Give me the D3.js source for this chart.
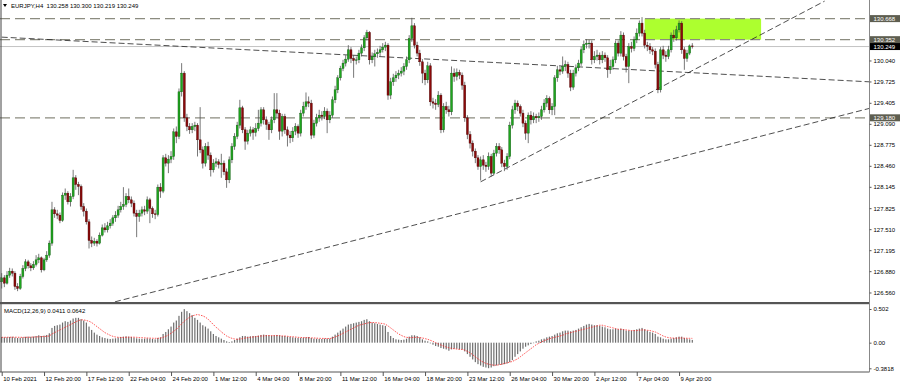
<!DOCTYPE html>
<html><head><meta charset="utf-8">
<script src="https://cdn.jsdelivr.net/npm/d3@7"></script>
<style>html,body{margin:0;padding:0;background:#fff;} svg{display:block;} text{font-family:"Liberation Sans",Arial,sans-serif;}</style>
</head><body><svg id="c" width="900" height="387"></svg>
<script>
const symbolTitle = "EURJPY,H4  130.258 130.300 130.219 130.249";
const macdTitle = "MACD(12,26,9) 0.0411 0.0642";
const firstOpen = 126.72;
const closes = [
126.78,126.70,126.82,126.88,126.85,126.65,126.62,126.80,126.92,127.02,
126.96,126.93,126.98,127.05,127.08,126.90,127.05,127.12,127.30,127.80,
127.74,127.72,127.64,128.02,128.05,127.92,128.00,128.28,128.18,128.15,
127.85,127.78,127.62,127.34,127.30,127.33,127.30,127.42,127.53,127.50,
127.56,127.60,127.68,127.72,127.80,127.85,127.88,128.00,127.95,127.90,
127.75,127.70,127.75,127.80,127.78,127.95,127.82,127.74,127.73,128.14,
128.08,128.58,128.50,128.56,128.60,128.97,128.90,129.57,129.85,129.18,
129.05,129.00,129.05,129.07,128.85,128.70,128.50,128.75,128.62,128.40,
128.50,128.52,128.48,128.50,128.37,128.25,128.55,128.75,128.90,129.07,
129.33,129.00,128.83,128.95,129.00,128.96,129.02,129.10,129.30,129.15,
129.08,129.00,129.15,129.30,129.25,128.98,129.20,129.00,128.92,128.88,
128.98,129.05,128.95,129.25,129.35,129.42,129.40,128.92,129.10,129.18,
129.22,129.20,129.28,129.15,129.22,129.45,129.60,129.78,129.92,130.00,
130.06,130.20,130.07,130.04,130.05,130.15,130.23,130.38,130.46,130.05,
130.10,130.14,130.16,130.20,130.24,130.27,129.52,129.72,129.78,129.82,
129.85,129.88,129.95,130.05,130.37,130.56,130.27,130.15,130.02,129.85,
129.75,129.96,129.42,129.40,129.38,129.52,129.00,129.35,129.30,129.27,
129.85,129.80,129.86,129.82,129.67,129.18,128.93,128.80,128.68,128.58,
128.45,128.55,128.47,128.45,128.60,128.35,128.65,128.75,128.70,128.50,
128.45,128.60,129.07,129.30,129.40,129.35,129.25,129.10,128.95,129.22,
129.15,129.20,129.18,129.20,129.30,129.40,129.47,129.30,129.35,129.78,
129.90,129.88,129.95,129.98,129.85,129.64,129.85,129.93,130.00,130.20,
130.28,130.30,130.30,130.05,130.10,130.12,130.05,130.12,130.08,129.90,
129.95,130.05,130.30,130.15,130.42,130.10,129.95,130.25,130.22,130.35,
130.45,130.60,130.45,130.27,130.25,130.20,130.18,129.98,129.60,130.20,
130.12,130.10,130.20,130.42,130.38,130.50,130.60,130.20,130.07,130.15,
130.258,130.249];
const highs = [
126.85,126.82,126.88,126.93,126.92,126.88,126.70,126.84,126.97,127.06,
127.05,127.00,127.03,127.12,127.14,127.10,127.08,127.18,127.34,127.92,
127.84,127.80,127.76,128.06,128.12,128.08,128.05,128.40,128.32,128.22,
128.18,127.90,127.82,127.66,127.40,127.38,127.36,127.46,127.58,127.60,
127.62,127.66,127.72,127.78,127.86,127.92,128.14,128.05,128.12,128.00,
127.94,127.80,127.80,127.85,127.86,128.00,127.98,127.85,127.80,128.18,
128.20,128.62,128.64,128.62,128.68,129.02,129.05,129.62,130.00,129.88,
129.24,129.10,129.10,129.12,129.10,129.34,128.75,128.80,128.82,128.66,
128.56,128.58,128.56,128.64,128.54,128.42,128.60,128.80,128.95,129.12,
129.45,129.36,129.04,129.00,129.05,129.04,129.10,129.30,129.34,129.34,
129.20,129.12,129.20,129.55,129.55,129.30,129.24,129.24,129.05,128.98,
129.04,129.10,129.08,129.30,129.42,129.56,129.50,129.45,129.15,129.24,
129.30,129.28,129.34,129.32,129.28,129.50,129.66,129.82,129.96,130.05,
130.12,130.27,130.24,130.12,130.10,130.20,130.28,130.42,130.50,130.48,
130.16,130.20,130.22,130.26,130.30,130.32,130.30,129.78,129.84,129.88,
129.90,129.94,130.00,130.10,130.42,130.68,130.60,130.32,130.20,130.06,
129.90,130.02,130.00,129.48,129.46,129.58,129.55,129.40,129.42,129.36,
129.95,129.92,129.92,129.90,129.86,129.72,129.22,128.98,128.84,128.72,
128.62,128.60,128.62,128.52,128.66,128.64,128.70,128.80,128.80,128.74,
128.55,128.65,129.12,129.36,129.45,129.44,129.38,129.30,129.14,129.26,
129.28,129.26,129.24,129.26,129.36,129.46,129.52,129.50,129.40,129.82,
129.96,129.95,130.10,130.04,130.02,129.90,129.90,129.98,130.05,130.25,
130.34,130.36,130.35,130.34,130.18,130.20,130.16,130.18,130.16,130.12,
130.05,130.10,130.34,130.34,130.48,130.46,130.14,130.30,130.32,130.40,
130.52,130.64,130.69,130.50,130.32,130.30,130.24,130.22,130.02,130.24,
130.26,130.18,130.26,130.46,130.50,130.56,130.64,130.63,130.24,130.20,
130.28,130.30];
const lows = [
126.62,126.64,126.68,126.78,126.80,126.60,126.58,126.60,126.77,126.88,
126.92,126.88,126.90,126.95,127.00,126.86,126.88,127.02,127.08,127.26,
127.68,127.66,127.60,127.62,127.95,127.88,127.85,127.96,128.10,128.02,
127.80,127.70,127.58,127.22,127.24,127.26,127.25,127.28,127.40,127.46,
127.46,127.52,127.56,127.62,127.68,127.76,127.80,127.84,127.90,127.84,
127.70,127.39,127.62,127.70,127.72,127.74,127.60,127.68,127.66,127.70,
127.98,128.05,128.45,128.35,128.50,128.55,128.80,128.86,129.50,129.12,
128.98,128.94,128.95,128.98,128.60,128.65,128.42,128.45,128.55,128.30,
128.36,128.44,128.42,128.28,128.32,128.13,128.20,128.50,128.70,128.86,
129.02,128.95,128.70,128.78,128.90,128.85,128.90,128.98,129.05,129.08,
129.00,128.85,128.95,129.10,129.18,128.85,128.90,128.94,128.75,128.80,
128.82,128.92,128.88,128.90,129.20,129.30,129.34,128.86,128.88,129.05,
129.12,129.14,129.16,128.95,129.10,129.18,129.40,129.55,129.74,129.88,
129.95,130.02,130.00,129.78,129.98,130.00,130.10,130.18,130.34,129.98,
130.00,129.95,130.08,130.10,130.16,130.18,129.45,129.46,129.66,129.72,
129.76,129.80,129.82,129.90,130.00,130.32,130.22,130.10,129.96,129.70,
129.67,129.70,129.36,129.32,129.30,129.34,128.95,128.96,129.24,129.20,
129.22,129.72,129.74,129.76,129.60,129.12,128.86,128.72,128.60,128.50,
128.40,128.24,128.40,128.37,128.40,128.30,128.32,128.60,128.64,128.44,
128.38,128.40,128.56,129.02,129.24,129.28,129.20,129.04,128.85,128.80,
129.08,129.10,129.10,129.12,129.15,129.26,129.34,129.24,129.22,129.22,
129.72,129.82,129.84,129.88,129.78,129.58,129.60,129.80,129.88,129.96,
130.15,130.22,130.22,129.98,130.00,130.04,129.98,130.00,130.02,129.78,
129.84,129.90,130.00,130.10,130.10,130.04,129.86,129.70,130.16,130.18,
130.30,130.40,130.40,130.22,130.18,130.14,130.12,129.92,129.55,129.56,
130.06,130.02,130.06,130.16,130.32,130.34,130.46,130.14,129.90,130.02,
130.12,130.219];
const macdHist = [
0.085,0.08,0.082,0.085,0.088,0.078,0.07,0.072,0.08,0.088,0.09,0.088,
0.092,0.1,0.11,0.1,0.105,0.115,
0.14,0.22,0.25,0.26,
0.27,0.3,0.32,0.31,0.33,
0.36,0.37,0.37,
0.35,0.33,0.3,
0.24,0.19,
0.15,0.12,0.1,0.08,
0.07,0.06,0.055,0.06,
0.065,0.075,0.085,0.09,0.095,0.09,0.085,0.075,0.065,0.06,
0.058,0.06,0.065,0.06,0.055,0.05,0.07,0.08,
0.13,0.16,0.2,0.24,
0.3,0.33,0.4,0.46,
0.5,0.47,0.44,0.41,
0.37,0.34,0.3,0.26,0.24,
0.21,0.17,0.13,0.1,0.08,
0.06,0.04,0.02,0.01,0.02,
0.04,0.06,0.08,
0.1,0.1,0.09,0.095,0.1,0.1,0.105,0.115,0.12,0.115,0.11,0.105,0.11,0.115,0.11,0.1,0.1,0.09,0.085,0.08,0.075,0.07,
0.07,0.075,0.08,0.085,0.07,0.06,0.058,0.055,0.055,0.06,0.06,0.062,
0.09,0.12,0.15,0.18,0.21,0.24,
0.27,0.28,0.29,0.3,0.31,0.32,0.34,
0.35,0.32,0.3,0.29,0.28,0.27,0.26,0.25,
0.16,0.1,0.07,
0.05,0.045,0.04,0.045,0.06,
0.09,0.11,0.11,0.1,0.08,
0.05,0.03,0.02,-0.01,
-0.03,-0.05,-0.06,-0.08,-0.09,-0.1,
-0.12,-0.1,-0.09,-0.09,-0.1,-0.1,-0.13,
-0.17,-0.21,-0.25,-0.29,-0.32,
-0.34,-0.36,-0.37,-0.38,-0.37,
-0.35,-0.34,-0.33,-0.33,-0.32,-0.31,-0.29,-0.26,
-0.21,-0.17,-0.13,-0.09,
-0.06,-0.04,-0.02,0.0,
0.02,0.03,0.05,0.06,0.08,
0.09,0.1,0.12,0.14,0.15,
0.17,0.18,0.18,0.17,0.18,0.19,
0.21,0.23,0.25,0.27,0.28,0.27,0.26,0.26,0.25,
0.24,0.23,0.21,0.2,0.2,0.21,0.2,
0.21,0.2,0.18,0.18,0.18,0.19,0.2,0.21,0.22,
0.2,0.18,0.16,0.15,0.13,
0.09,0.08,0.06,0.05,0.05,
0.06,0.07,0.08,0.09,0.09,
0.07,0.06,0.05,0.0411];
const macdSignal = [
0.08,0.08,0.081,0.081,0.082,0.082,0.081,0.08,0.08,0.08,0.081,0.082,
0.084,0.086,0.088,0.09,0.092,0.095,
0.1,0.13,0.15,0.17,
0.19,0.21,0.23,0.25,0.27,0.29,0.31,0.33,0.34,
0.34,0.33,0.32,0.3,
0.27,0.24,0.21,0.18,0.15,0.13,
0.11,0.095,0.085,0.08,0.078,
0.078,0.08,0.082,0.083,0.082,0.08,0.077,0.074,0.072,0.07,0.068,0.066,0.065,0.066,0.068,
0.08,0.095,0.115,0.14,0.17,
0.2,0.24,0.28,0.32,0.35,
0.38,0.4,0.41,0.42,0.41,0.4,
0.38,0.35,0.31,0.27,0.23,0.2,
0.16,0.13,0.1,0.08,0.065,0.055,
0.05,0.055,0.06,0.07,0.075,
0.08,0.085,0.09,0.095,0.1,0.1,0.105,0.105,0.105,0.105,0.105,0.105,0.1,0.1,0.095,0.09,0.088,0.085,0.08,
0.078,0.076,0.075,0.074,0.072,0.07,0.068,0.065,0.064,0.063,0.062,0.062,
0.07,0.085,0.1,0.12,0.14,0.16,0.18,
0.2,0.22,0.24,0.26,0.27,0.28,0.29,0.3,
0.3,0.3,0.295,0.29,0.285,0.275,
0.25,0.22,0.19,0.16,0.13,0.11,0.09,
0.08,0.075,0.075,0.08,0.08,0.075,0.07,0.06,
0.05,0.035,0.02,0.0,-0.02,-0.035,
-0.05,-0.065,-0.075,-0.085,-0.09,-0.095,-0.1,-0.1,-0.11,
-0.13,-0.15,-0.18,-0.21,-0.24,-0.27,
-0.29,-0.31,-0.32,-0.33,-0.335,-0.335,-0.33,-0.32,-0.31,
-0.3,-0.29,-0.28,-0.26,-0.24,-0.21,-0.18,
-0.15,-0.12,-0.09,-0.06,-0.03,-0.01,
0.01,0.03,0.045,0.06,0.07,0.08,0.09,
0.1,0.11,0.13,0.14,0.15,0.16,0.17,
0.18,0.19,0.2,0.21,0.22,0.23,0.24,0.25,0.26,
0.26,0.25,0.24,0.23,0.22,0.21,0.2,
0.2,0.195,0.19,0.185,0.18,0.18,0.18,0.185,0.19,
0.19,0.185,0.18,0.17,0.16,0.14,0.12,0.1,
0.085,0.075,0.07,0.068,0.068,
0.07,0.07,0.068,0.066,0.065,0.0642];
const dateLabels = ["10 Feb 2021","12 Feb 20:00","17 Feb 12:00","22 Feb 04:00","24 Feb 20:00","1 Mar 12:00","4 Mar 04:00","8 Mar 20:00","11 Mar 12:00","16 Mar 04:00","18 Mar 20:00","23 Mar 12:00","26 Mar 04:00","30 Mar 20:00","2 Apr 12:00","7 Apr 04:00","9 Apr 20:00"];
const dateBars = [0,16,32,48,64,80,96,112,128,144,160,176,192,208,224,240,256];
const priceTicks = [130.040,129.725,129.405,129.090,128.775,128.460,128.145,127.825,127.510,127.195,126.880,126.560];
const levelPrices = [130.668,130.352,129.180];
const bidPrice = 130.249;
const macdTicks = [0.502,0.0,-0.3818];
const macdTickLabels = ["0.502","0.00","-0.3818"];
const trendStart = [[0,130.39],[181,128.22],[42.8,126.42]];
const trendEnd = [[327.8,129.72],[311,130.93],[327.8,129.32]];
const zoneBars = [243,287];
const zonePrices = [130.352,130.668];

const svg = d3.select("#c");
const W = 869.5;
const x = d3.scaleLinear().domain([0,261]).range([1.7,692.3]);
const y = d3.scaleLinear().domain([126.4175,130.947]).range([302,0]);
const ym = d3.scaleLinear().domain([-0.3818,0.502]).range([368.3,309]);
const bars = closes.map((c,i)=>({i,o:i?closes[i-1]:firstOpen,c,h:highs[i],l:lows[i]}));

const defs = svg.append("defs");
defs.append("clipPath").attr("id","cm").append("rect").attr("x",0).attr("y",0).attr("width",W).attr("height",302);
defs.append("clipPath").attr("id","cd").append("rect").attr("x",0).attr("y",304).attr("width",W).attr("height",68);

const main = svg.append("g").attr("clip-path","url(#cm)");
// zone
main.append("rect").attr("x",x(zoneBars[0])).attr("width",x(zoneBars[1])-x(zoneBars[0]))
  .attr("y",y(zonePrices[1])).attr("height",y(zonePrices[0])-y(zonePrices[1])).attr("fill","#adff2f");
// bid line
main.append("line").attr("x1",0).attr("x2",W).attr("y1",y(bidPrice)).attr("y2",y(bidPrice)).attr("stroke","#c4c4c4").attr("stroke-width",1);
// level lines
main.selectAll(".lvl").data(levelPrices).join("line").attr("x1",0).attr("x2",W)
  .attr("y1",d=>y(d)).attr("y2",d=>y(d)).attr("stroke","#8c8c80").attr("stroke-width",1.3).attr("stroke-dasharray","10,5");
// trend lines
main.selectAll(".tl").data(trendStart).join("line")
  .attr("x1",d=>x(d[0])).attr("y1",d=>y(d[1]))
  .attr("x2",(d,k)=>x(trendEnd[k][0])).attr("y2",(d,k)=>y(trendEnd[k][1]))
  .attr("stroke","#222").attr("stroke-width",0.8).attr("stroke-dasharray","6,3");
// candles
const cg = main.append("g");
cg.selectAll(".w").data(bars).join("line").attr("x1",d=>x(d.i)).attr("x2",d=>x(d.i))
  .attr("y1",d=>y(d.h)).attr("y2",d=>y(d.l)).attr("stroke","#555").attr("stroke-width",0.8);
cg.selectAll(".b").data(bars).join("rect").attr("x",d=>x(d.i)-1).attr("width",2)
  .attr("y",d=>y(Math.max(d.o,d.c))).attr("height",d=>Math.max(0.7,Math.abs(y(d.o)-y(d.c))))
  .attr("fill",d=>d.c>=d.o?"#1ea51e":"#8b0a0a").attr("stroke",d=>d.c>=d.o?"#145a14":"#4a0505").attr("stroke-width",0.4);

// title
svg.append("path").attr("d","M3,4 L7,4 L5,7 Z").attr("fill","#000");
svg.append("text").attr("x",11).attr("y",8).attr("font-size",6).attr("fill","#000").text(symbolTitle).style("white-space","pre");

// MACD
const mg = svg.append("g").attr("clip-path","url(#cd)");
mg.selectAll(".h").data(macdHist).join("rect").attr("x",(d,i)=>x(i)-0.6).attr("width",1.2)
  .attr("y",d=>Math.min(ym(d),ym(0))).attr("height",d=>Math.max(0.5,Math.abs(ym(d)-ym(0)))).attr("fill","#6e6e6e");
mg.append("path").datum(macdSignal).attr("d",d3.line().x((d,i)=>x(i)).y(d=>ym(d)))
  .attr("fill","none").attr("stroke","#ff2a2a").attr("stroke-width",0.8).attr("stroke-dasharray","1.5,1.2");
svg.append("text").attr("x",4).attr("y",312.5).attr("font-size",6).attr("fill","#000").text(macdTitle);

// frame
svg.append("line").attr("x1",1).attr("x2",1).attr("y1",0).attr("y2",372).attr("stroke","#444").attr("stroke-width",1);
svg.append("rect").attr("x",0).attr("y",302).attr("width",W).attr("height",2.2).attr("fill","#555");
svg.append("line").attr("x1",0).attr("x2",W).attr("y1",372).attr("y2",372).attr("stroke","#555").attr("stroke-width",1);
svg.append("line").attr("x1",W).attr("x2",W).attr("y1",0).attr("y2",372).attr("stroke","#888").attr("stroke-width",1);

// price axis
const pa = svg.append("g").attr("transform",`translate(${W},0)`)
  .call(d3.axisRight(y).tickValues(priceTicks).tickSize(2).tickPadding(2).tickFormat(d3.format(".3f")));
pa.select(".domain").remove();
pa.selectAll("line").attr("stroke","#555");
pa.selectAll("text").attr("font-size",6).attr("fill","#000").attr("font-family","Liberation Sans, Arial");
// level boxes
const lb = svg.append("g");
levelPrices.forEach(p=>{
  lb.append("rect").attr("x",W+0.5).attr("y",y(p)-3.5).attr("width",30).attr("height",7).attr("fill","#5e5e50");
  lb.append("text").attr("x",W+4).attr("y",y(p)+2).attr("font-size",6).attr("fill","#fff").text(d3.format(".3f")(p));
});
lb.append("rect").attr("x",W+0.5).attr("y",y(bidPrice)-3.5).attr("width",30).attr("height",7).attr("fill","#000");
lb.append("text").attr("x",W+4).attr("y",y(bidPrice)+2).attr("font-size",6).attr("fill","#fff").text(d3.format(".3f")(bidPrice));

// macd axis
const ma = svg.append("g").attr("transform",`translate(${W},0)`)
  .call(d3.axisRight(ym).tickValues(macdTicks).tickSize(2).tickPadding(2).tickFormat((d,i)=>macdTickLabels[i]));
ma.select(".domain").remove();
ma.selectAll("line").attr("stroke","#555");
ma.selectAll("text").attr("font-size",6).attr("fill","#000").attr("font-family","Liberation Sans, Arial");

// date axis
const da = svg.append("g").attr("transform","translate(0,372)")
  .call(d3.axisBottom(x).tickValues(dateBars).tickSize(4).tickPadding(1).tickFormat((d,i)=>dateLabels[i]));
da.select(".domain").remove();
da.selectAll("line").attr("stroke","#555");
da.selectAll("text").attr("font-size",6).attr("fill","#000").attr("text-anchor","start").attr("dx",1)
  .attr("font-family","Liberation Sans, Arial");
</script></body></html>
